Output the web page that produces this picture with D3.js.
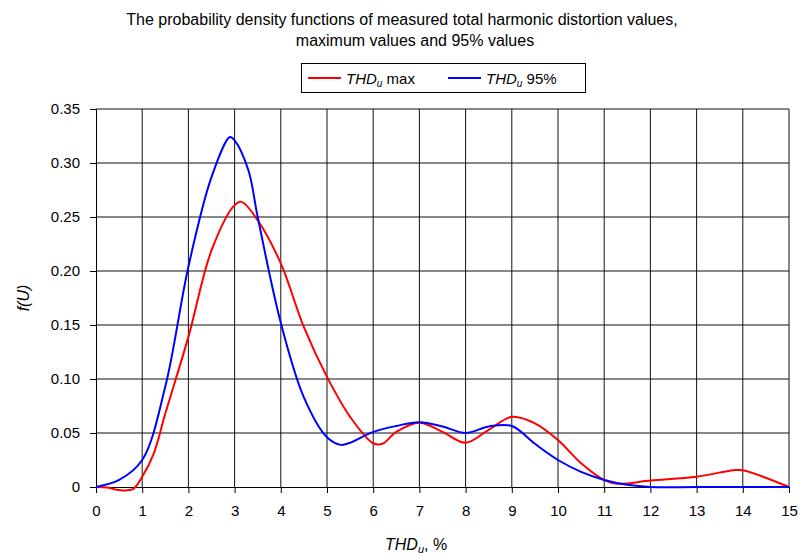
<!DOCTYPE html>
<html lang="en">
<head>
<meta charset="utf-8">
<script src="https://d3js.org/d3.v7.min.js"></script>
<style>
  body { margin: 0; background: #fff; }
  text { font-family: "Liberation Sans", Arial, sans-serif; }
</style>
</head>
<body>
<div id="chart"></div>
<script>
// THDu max curve
const maxX = [0, 0.25, 0.5, 0.8, 1, 1.25, 1.5, 2, 2.5, 3, 3.15, 3.5, 4, 4.5, 5, 5.5, 6, 6.2, 6.5, 7, 7.5, 8, 8.5, 9, 9.5, 10, 10.5, 11, 11.3, 12, 13, 13.8, 14, 15];
const maxY = [0, -0.0005, -0.0028, -0.002, 0.0095, 0.031, 0.068, 0.139, 0.219, 0.261, 0.264, 0.247, 0.207, 0.148, 0.102, 0.065, 0.0405, 0.040, 0.051, 0.0595, 0.051, 0.041, 0.053, 0.065, 0.059, 0.0435, 0.022, 0.0065, 0.003, 0.006, 0.0095, 0.0155, 0.0155, 0];
// THDu 95% curve
const p95X = [0, 0.5, 1, 1.5, 2, 2.5, 2.9, 3, 3.3, 3.5, 4, 4.5, 5, 5.3, 5.5, 6, 6.5, 7, 7.5, 8, 8.5, 9, 9.5, 10, 10.5, 11, 11.5, 12, 13, 14, 15];
const p95Y = [0, 0.0065, 0.025, 0.093, 0.204, 0.287, 0.324, 0.321, 0.293, 0.25, 0.152, 0.083, 0.046, 0.039, 0.041, 0.051, 0.0565, 0.060, 0.056, 0.050, 0.056, 0.0565, 0.040, 0.025, 0.014, 0.0065, 0.002, 0, 0, 0, 0];

const xTicks = d3.range(0, 16);
const yTicks = [0, 0.05, 0.10, 0.15, 0.20, 0.25, 0.30, 0.35];

const W = 802, H = 558;
const margin = {top: 109, right: 13, bottom: 71, left: 96};
const width = W - margin.left - margin.right,
      height = H - margin.top - margin.bottom;

const svg = d3.select("#chart").append("svg")
  .attr("width", W).attr("height", H);

const g = svg.append("g")
  .attr("transform", `translate(${margin.left},${margin.top})`);

const x = d3.scaleLinear().domain([0, 15]).range([0, width]);
const y = d3.scaleLinear().domain([0, 0.35]).range([height, 0]);

// grid
g.append("g").selectAll("line").data(xTicks.slice(1)).join("line")
  .attr("x1", d => x(d)).attr("x2", d => x(d))
  .attr("y1", 0).attr("y2", height)
  .attr("stroke", "#111").attr("stroke-width", 1);
g.append("g").selectAll("line").data(yTicks.slice(1)).join("line")
  .attr("x1", 0).attr("x2", width)
  .attr("y1", d => y(d)).attr("y2", d => y(d))
  .attr("stroke", "#111").attr("stroke-width", 1);

// axes
const xAxis = g.append("g")
  .attr("transform", `translate(0,${height})`)
  .call(d3.axisBottom(x).tickValues(xTicks).tickFormat(d3.format("d")).tickSize(6).tickPadding(12));
const yAxis = g.append("g")
  .call(d3.axisLeft(y).tickValues(yTicks)
    .tickFormat(d => d === 0 ? "0" : d3.format(".2f")(d)).tickSize(6).tickPadding(10));
[xAxis, yAxis].forEach(a => {
  a.select(".domain").attr("stroke", "#000");
  a.selectAll(".tick line").attr("stroke", "#000");
  a.selectAll(".tick text").attr("fill", "#000")
    .style("font-family", "'Liberation Sans', Arial, sans-serif").style("font-size", "15px");
});

// curves
const line = d3.line()
  .x(d => x(d[0])).y(d => y(d[1]))
  .curve(d3.curveCatmullRom.alpha(0.5));

g.append("path").datum(d3.zip(maxX, maxY))
  .attr("fill", "none").attr("stroke", "#ff0000").attr("stroke-width", 2)
  .attr("d", line);
g.append("path").datum(d3.zip(p95X, p95Y))
  .attr("fill", "none").attr("stroke", "#0000ff").attr("stroke-width", 2)
  .attr("d", line);

// title
svg.append("text").attr("x", 402).attr("y", 25).attr("text-anchor", "middle")
  .style("font-size", "16px")
  .text("The probability density functions of measured total harmonic distortion values,");
svg.append("text").attr("x", 415).attr("y", 46).attr("text-anchor", "middle")
  .style("font-size", "16px")
  .text("maximum values and 95% values");

// legend
svg.append("rect").attr("x", 301.5).attr("y", 63.5).attr("width", 284).attr("height", 29)
  .attr("fill", "#fff").attr("stroke", "#000");
const legend = [
  {color: "#ff0000", label: " max", x: 308},
  {color: "#0000ff", label: " 95%", x: 448}
];
legend.forEach(l => {
  svg.append("line").attr("x1", l.x).attr("x2", l.x + 33)
    .attr("y1", 78).attr("y2", 78)
    .attr("stroke", l.color).attr("stroke-width", 2);
  const t = svg.append("text").attr("x", l.x + 38).attr("y", 84).style("font-size", "15px");
  t.append("tspan").style("font-style", "italic").text("THD");
  t.append("tspan").style("font-style", "italic").style("font-size", "10px").attr("dy", 3).text("u");
  t.append("tspan").attr("dy", -3).text(l.label);
});

// axis titles
svg.append("text")
  .attr("transform", "translate(29,298) rotate(-90)")
  .attr("text-anchor", "middle")
  .style("font-size", "16px").style("font-style", "italic")
  .text("f(U)");
const xt = svg.append("text").attr("x", 385).attr("y", 550).style("font-size", "16px");
xt.append("tspan").style("font-style", "italic").text("THD");
xt.append("tspan").style("font-style", "italic").style("font-size", "11px").attr("dy", 3).text("u");
xt.append("tspan").attr("dy", -3).text(", %");
</script>
</body>
</html>
